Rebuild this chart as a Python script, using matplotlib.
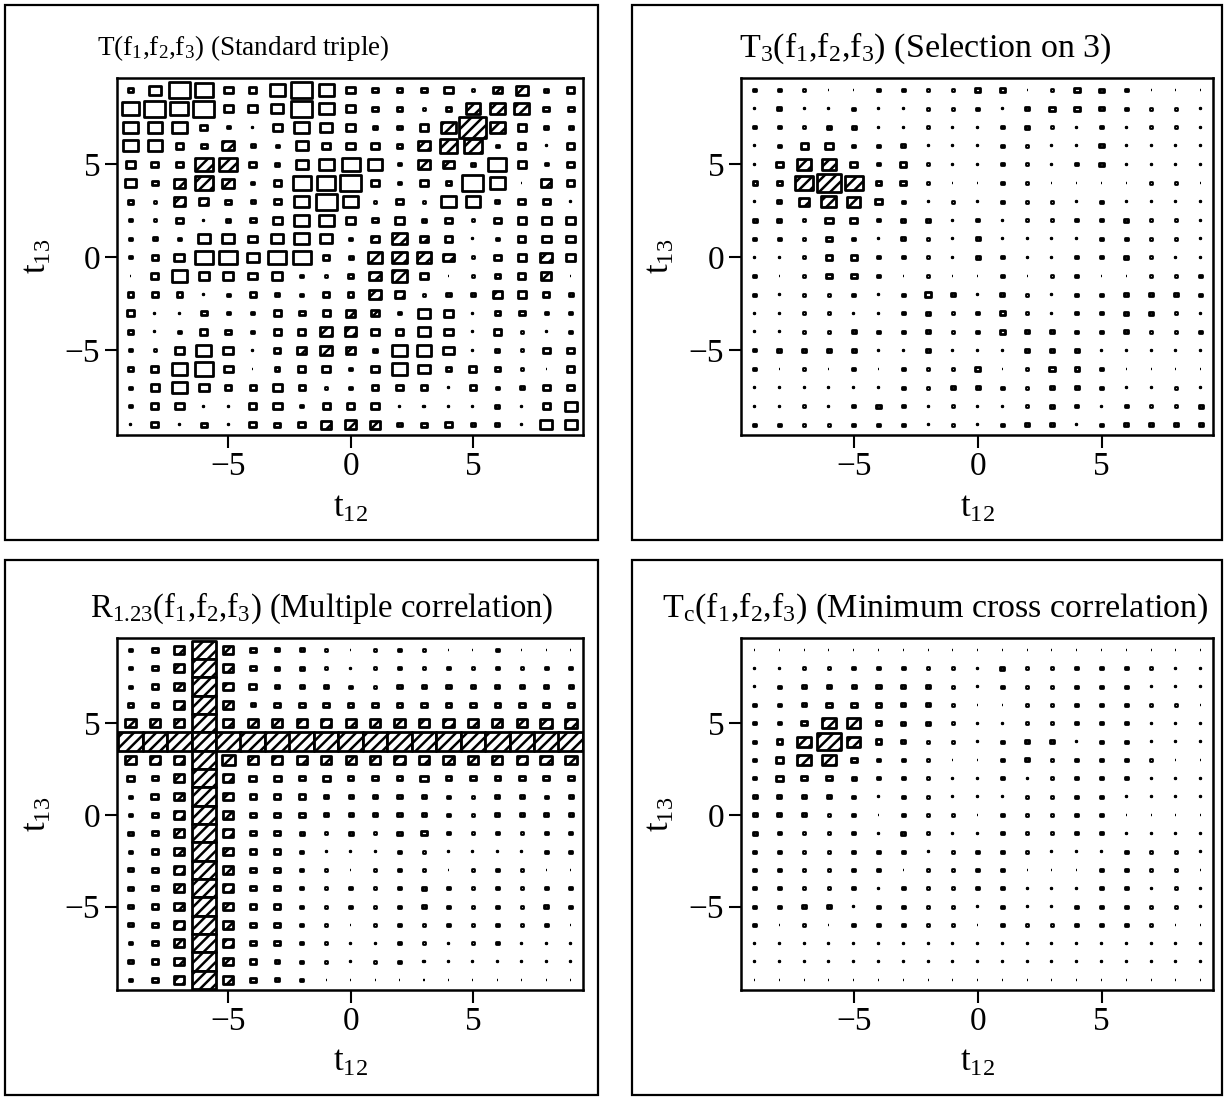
import numpy as np
import matplotlib
matplotlib.use('Agg')
import matplotlib.pyplot as plt
from matplotlib.patches import Rectangle

plt.rcParams['font.family'] = ['Liberation Serif', 'DejaVu Serif']
plt.rcParams['mathtext.fontset'] = 'custom'
plt.rcParams['mathtext.rm'] = 'Liberation Serif'
plt.rcParams['mathtext.it'] = 'Liberation Serif:italic'
plt.rcParams['hatch.linewidth'] = 1.8

lags = np.arange(-9, 10)
lag_ticks = [-5, 0, 5]

# rows: t13 = 9 (top) ... -9 (bottom); columns: t12 = -9 ... 9
# magnitude read off the square size, > 0 hatched, < 0 open
standard_triple = [
    [-2, -4, -7, -6, -3, -2.5, -5, -7, -5, -3, -2, -2, -2, -3, -1, 3, 4, -1.5, -2.5],
    [-6, -7, -6, -7, -3, -3, -4, -7, -5, -3, -2, -2, -1, -2, 5, 5, 5, -2, -2],
    [-5, -5, -5, -2.5, -1, -0.5, -3, -5, -4, -3, -1.5, -1.5, -3, 5, 9, 5, -3, -1.5, -1.5],
    [-5, -5, -2.5, -2, 4, -1.5, -1, -4, -3, -3, -2.5, -2, 4, 6, 6, -1, -2.5, -0.5, -2.5],
    [-3, -2.5, -2.5, 6, 6, -2.5, -1.5, -4, -5, -6, -5, -1, 4, 3.5, -1.5, -6, -3, -1, -2.5],
    [-3.5, -2, 4, 6, 4, -1, -2.5, -6, -6, -7, -3, -1, -2.5, -2, -7, -5, -0.5, 3.5, -2.5],
    [-2, -1, 4, 3, -2, -1.5, -2.5, -5, -7, -5, -1, -2.5, -1, -5, -5, -1.5, -2.5, -2.5, -0.5],
    [-1, -1, -2.5, -0.5, -1.5, -2, -3, -5, -5, -3, -2, -3, -1.5, -2.5, -1, -2.5, -3, -3, -3],
    [-1, -1.5, -1, -4, -4, -3, -4, -5, -4, -1, 3, 5, 3, -2.5, -0.5, -1, -2.5, -3, -3],
    [-1, -2, -3.5, -6, -6, -4, -6, -6, -2, -1.5, 5, 5, 5, 3.5, -1, -2.5, -3, 4, -3],
    [-0.5, -2.5, -5, -3.5, -3.5, -3, -3.5, -1, -1, -2, 4, 5, -2.5, -0.5, -1, -2, -2.5, 3.5, -0.5],
    [-2, -2, -2, -0.5, -1, -2, -1.5, -1, -2, -2, 4, 3, -1, -1.5, -1.5, 3, -3, -2, -1.5],
    [-2.5, -0.5, -0.5, -2, -1, -1, -2.5, -2, -2.5, 3, 2.5, -1, -4, -3, -0.5, -2, -2, -1, -1],
    [-2, -0.5, -1, -2.5, -2, -1, -2.5, -2.5, 4, 4, -2.5, -2.5, -4, -3, -0.5, -2.5, -1, -0.5, -1],
    [-1, -1, -3, -5, -3.5, -0.5, -2, 3, 4, 3, -1.5, -5, -5, -3.5, -0.5, -1.5, -1, -2.5, -2.5],
    [-2, -2.5, -5, -6, -3, -0.5, -1.5, -2.5, -3, -1, -3, -5, -4, -1.5, -2.5, -2, -1, -0.5, -2.5],
    [-1, -3, -5, -3.5, -2, -2, -3, -2, -1, -1, -2, -2.5, -2, -0.5, -2, -1, -1.5, -2.5, -2.5],
    [-1, -2.5, -3, -0.5, -0.5, -2.5, -3, -1, -2.5, -2.5, -2.5, -0.5, -0.5, -0.5, -0.5, -1.5, -0.5, -2.5, -4],
    [-0.5, -2.5, -0.5, -2, -0.5, -2.5, -2, -2.5, 3.5, 4, 3.5, -1.5, -2, -2.5, -1.5, -1.5, -0.5, -4, -4],
]

selection_on_3 = [
    [-1, -1, -1, -0.5, -0.5, -1, -1, -1, -1, -2, -2, -0.5, -1, -2, -1.5, -1, -0.5, -0.5, -0.5],
    [-0.5, -1.5, -0.5, -0.5, -1, -0.5, -0.5, -1, -1, -1, -0.5, -1.5, -2, -2, -1.5, -1, -1, -1, -0.5],
    [-1, -1, -1, -1.5, -1.5, -0.5, -0.5, -1, -0.5, -0.5, -1, -1.5, -1, -0.5, -1, -0.5, -1, -1, -0.5],
    [-0.5, -1, -2.5, -2.5, -1, -1, -1.5, -0.5, -0.5, -0.5, -1, -1, -0.5, -0.5, -1.5, -0.5, -0.5, -0.5, -0.5],
    [-0.5, -2.5, 4.5, 4.5, -2.5, -1, -2, -1, -0.5, -0.5, -1, -1, -0.5, -1, -1.5, -0.5, -0.5, -0.5, -0.5],
    [-1.5, -2, 6, 8.2, 6, -2, -2, -1, -0.5, -0.5, -1, -1, -0.5, -0.5, -0.5, -0.5, -1, -1, -0.5],
    [-0.5, -1.5, 3.5, 5, 4.5, -2.5, -1, -0.5, -1, -0.5, -1, -1, -1, -0.5, -1, -0.5, -0.5, -0.5, -0.5],
    [-1.5, -1.5, -1, -2.5, -2.5, -1, -1.5, -1.5, -0.5, -1, -0.5, -1, -1, -1, -1, -1.5, -1, -1, -0.5],
    [-1, -1, -1, -2, -1, -0.5, -1.5, -1, -0.5, -1.5, -0.5, -0.5, -0.5, -0.5, -1, -1, -1, -1, -0.5],
    [-0.5, -0.5, -1, -2, -2, -1, -1, -1, -0.5, -1.5, -1, -0.5, -0.5, -1, -1, -1.5, -1, -0.5, -0.5],
    [-1, -0.5, -1, -2, -2, -1, -0.5, -1, -0.5, -0.5, -1, -0.5, -1, -1, -0.5, -0.5, -1, -1, -1],
    [-1, -0.5, -1, -1, -1, -0.5, -1, -2, -1.5, -0.5, -1.5, -1, -0.5, -1, -1, -1.5, -1.5, -1.5, -1],
    [-0.5, -0.5, -1, -1, -0.5, -0.5, -1, -1.5, -1, -1, -2, -1, -0.5, -1, -1, -1.5, -1.5, -1, -0.5],
    [-0.5, -0.5, -1, -1, -1.5, -1, -1, -1.5, -1, -1, -2, -1.5, -1.5, -1, -1, -1.5, -1, -1, -1],
    [-1, -1.5, -1.5, -1.5, -1.5, -0.5, -0.5, -1.5, -0.5, -0.5, -0.5, -1.5, -1.5, -1.5, -0.5, -0.5, -0.5, -0.5, -0.5],
    [-1, -0.5, -1, -0.5, -1, -0.5, -1, -1, -1, -2, -0.5, -1, -2, -1.5, -1, -0.5, -0.5, -0.5, -0.5],
    [-0.5, -0.5, -0.5, -0.5, -0.5, -0.5, -1, -1, -1.5, -1.5, -1, -1, -1.5, -1.5, -1, -0.5, -0.5, -1, -0.5],
    [-0.5, -0.5, -1, -0.5, -1, -1.5, -1, -0.5, -1, -0.5, -0.5, -1, -1.5, -1, -0.5, -1, -1, -1, -1.5],
    [-1, -1, -1, -1, -1, -1, -1, -0.5, -1, -0.5, -1, -1.5, -1.5, -0.5, -1, -1.5, -1.5, -1.5, -1.5],
]

multiple_corr = [
    [-1, -2, 3.5, 8.2, 3.5, -2, -1.5, -1.5, -1, -0.5, -1, -1, -1, -0.5, -0.5, -1, -0.5, -0.5, -0.5],
    [-1, -2, 3.5, 8.2, 3.5, -2, -1.5, -1.5, -1, -0.5, -1, -1, -1, -1, -1, -1, -1, -1, -1],
    [-1, -2, 3.5, 8.2, 3.5, -2.5, -1.5, -1.5, -1.5, -1, -1, -1.5, -1.5, -1.5, -1.5, -1.5, -1.5, -1.5, -1.5],
    [-2, -2, 3.5, 8.2, 3.5, -1.5, -2, -2, -2, -2, -2, -2, -2, -2, -2, -2, -2, -2, -2],
    [3.5, 3.5, 3.5, 8.2, 3.5, 3.5, 3.5, 3.5, 3.5, 3.5, 3.5, 3.5, 3.5, 3.5, 3.5, 3.5, 3.5, 4, 4],
    [8.2, 8.2, 8.2, 8.2, 8.2, 8.2, 8.2, 8.2, 8.2, 8.2, 8.2, 8.2, 8.2, 8.2, 8.2, 8.2, 8.2, 8.2, 8.2],
    [3.5, 3.5, 3.5, 8.2, 4.5, 3.5, 3.5, 3.5, 3.5, 3.5, 3.5, 3.5, 3.5, 3.5, 3.5, 3.5, 3.5, 4, 4],
    [-2.5, -2, 3.5, 8.2, 3.5, -2.5, -2.5, -2, -2.5, -2, -2, -2, -2.5, -2, -2, -2, -2, -2, -2],
    [-1, -2.5, 3.5, 8.2, 3.5, -2, -2, -2, -1.5, -1.5, -1.5, -1.5, -1.5, -1, -1, -1.5, -1.5, -1, -1.5],
    [-1, -2, 3.5, 8.2, 3.5, -2, -2, -2, -1.5, -1.5, -1.5, -1.5, -1.5, -1, -1, -1.5, -1.5, -1.5, -1.5],
    [-1.5, -2, 3.5, 8.2, 3.5, -2, -2, -1.5, -1, -1.5, -1, -1.5, -2, -1, -1, -1, -1, -1, -1],
    [-1, -2, 3.5, 8.2, 3.5, -2, -2, -1, -0.5, -0.5, -0.5, -1, -1, -0.5, -0.5, -0.5, -0.5, -1, -1],
    [-1.5, -2, 3.5, 8.2, 3.5, -2, -2, -1, -1, -0.5, -1, -1, -1, -0.5, -1, -1, -1, -0.5, -0.5],
    [-1.5, -2, 3.5, 8.2, 3.5, -2, -2, -1, -1, -1, -1, -1, -1.5, -1, -1, -1, -1, -1, -1],
    [-1.5, -2, 3.5, 8.2, 3.5, -2, -2, -1, -1, -1, -1, -1, -1.5, -1, -1, -1, -1, -1.5, -1],
    [-1.5, -2, 3.5, 8.2, 3.5, -2, -2, -1, -1, -0.5, -1, -1, -1, -1, -1, -1, -1, -1, -0.5],
    [-1, -2, 3.5, 8.2, 3.5, -2, -2, -1, -1, -0.5, -0.5, -1, -1, -0.5, -1, -1, -0.5, -0.5, -0.5],
    [-1.5, -2, 3.5, 8.2, 3.5, -2, -1.5, -1, -1, -0.5, -1, -1, -0.5, -0.5, -0.5, -0.5, -0.5, -0.5, -0.5],
    [-1, -2, 3.5, 8.2, 3.5, -2, -1.5, -1, -0.5, -0.5, -0.5, -0.5, -0.5, -0.5, -0.5, -0.5, -0.5, -0.5, -0.5],
]

min_cross_corr = [
    [-0.5, -0.5, -0.5, -0.5, -0.5, -0.5, -0.5, -0.5, -0.5, -0.5, -0.5, -0.5, -0.5, -0.5, -0.5, -0.5, -0.5, -0.5, -0.5],
    [-0.5, -0.5, -1, -1, -1, -1, -1, -1, -1, -0.5, -1.5, -1, -1, -1, -1, -1, -1, -0.5, -0.5],
    [-0.5, -1, -1.5, -1.5, -1.5, -1.5, -1.5, -1.5, -1, -0.5, -1, -1, -1, -1, -1, -1, -0.5, -0.5, -0.5],
    [-1, -1, -1.5, -2, -2, -2, -1.5, -1.5, -1, -0.5, -0.5, -1, -1, -1, -1, -1, -1, -1, -0.5],
    [-1, -1, -2, 4.5, 4.5, -2, -1.5, -1.5, -1, -0.5, -0.5, -1, -1, -1, -1, -1, -0.5, -0.5, -0.5],
    [-1, -2, 4.5, 7.8, 4.5, -2, -1.5, -1, -1, -0.5, -1, -1.5, -1.5, -0.5, -1, -1, -0.5, -0.5, -0.5],
    [-1, -2.5, 4.5, 4.5, -2, -1, -1, -1, -0.5, -0.5, -1, -1.5, -1, -1, -1, -1, -1, -0.5, -0.5],
    [-1, -2.5, -2, -2, -1.5, -1, -1, -1, -0.5, -0.5, -1, -0.5, -1, -1, -1, -1, -0.5, -0.5, -0.5],
    [-1.5, -1.5, -1.5, -1.5, -1, -0.5, -1, -1, -0.5, -0.5, -0.5, -1, -1, -1, -1, -0.5, -0.5, -0.5, -0.5],
    [-1.5, -1.5, -1.5, -1, -1, -0.5, -1, -1, -1, -0.5, -1, -1, -1, -1, -1, -0.5, -0.5, -0.5, -0.5],
    [-1.5, -1, -1, -1, -1, -0.5, -1.5, -1, -0.5, -0.5, -1, -1, -1, -1, -1, -0.5, -0.5, -0.5, -0.5],
    [-1, -1, -1, -1, -1, -1, -1, -0.5, -1, -1, -1, -1, -0.5, -0.5, -0.5, -1, -1, -1, -0.5],
    [-1, -1, -1, -1, -1, -1, -0.5, -1, -1, -1, -1, -0.5, -0.5, -0.5, -1, -1, -1, -1, -0.5],
    [-1, -1, -1, -1, -1, -0.5, -1, -1, -1, -1, -1, -0.5, -0.5, -0.5, -1, -1, -0.5, -1, -0.5],
    [-1, -1, -1.5, -1.5, -0.5, -1, -1, -1, -1, -0.5, -1, -0.5, -0.5, -1, -1, -1, -1, -1, -0.5],
    [-1, -0.5, -1, -0.5, -1, -1, -1, -1, -1, -0.5, -1, -1, -1, -1, -1, -1, -1, -0.5, -0.5],
    [-0.5, -0.5, -0.5, -0.5, -0.5, -0.5, -0.5, -0.5, -0.5, -0.5, -0.5, -0.5, -0.5, -0.5, -0.5, -0.5, -0.5, -0.5, -0.5],
    [-0.5, -0.5, -0.5, -0.5, -0.5, -0.5, -0.5, -0.5, -0.5, -0.5, -0.5, -0.5, -0.5, -0.5, -0.5, -0.5, -0.5, -0.5, -0.5],
    [-0.5, -0.5, -0.5, -0.5, -0.5, -0.5, -0.5, -0.5, -0.5, -0.5, -0.5, -0.5, -0.5, -0.5, -0.5, -0.5, -0.5, -0.5, -0.5],
]

F = r'($\mathrm{f}_1$,$\mathrm{f}_2$,$\mathrm{f}_3$)'
titles = [
    'T' + F + ' (Standard triple)',
    r'$\mathrm{T}_3$' + F + ' (Selection on 3)',
    r'$\mathrm{R}_{1.23}$' + F + ' (Multiple correlation)',
    r'$\mathrm{T}_\mathrm{c}$' + F + ' (Minimum cross correlation)',
]
grids = [standard_triple, selection_on_3, multiple_corr, min_cross_corr]


def side(v):
    # square side in lag units for a read-off magnitude
    return max(0.125 * abs(v) - 0.02, 0.03)


def draw_cells(ax, grid):
    grid = np.asarray(grid, float)
    for i, t13 in enumerate(lags[::-1]):
        for j, t12 in enumerate(lags):
            v = grid[i, j]
            s = side(v)
            lw = 2.0 if abs(v) > 0.6 else 1.7
            ax.add_patch(Rectangle((t12 - s / 2, t13 - s / 2), s, s,
                                   facecolor='white', edgecolor='black', lw=lw,
                                   joinstyle='round',
                                   hatch='///' if v > 0 else None))


W, H = 1225, 1098
fig = plt.figure(figsize=(W / 100, H / 100), dpi=100)

# axes boxes in pixels (left, top, right, bottom)
boxes = [(117, 78, 583, 435), (741, 78, 1213, 435),
         (117, 638, 583, 990), (741, 638, 1213, 990)]
frames = [(5, 5, 598, 540), (632, 5, 1222, 540),
          (5, 560, 598, 1095), (632, 560, 1222, 1095)]
title_pos = [(243, 48), (925, 48), (322, 608), (935, 608)]
title_size = [19.5, 24.5, 23.5, 24.5]

for k in range(4):
    l, t, r, b = boxes[k]
    ax = fig.add_axes([l / W, 1 - b / H, (r - l) / W, (b - t) / H])
    draw_cells(ax, grids[k])
    ax.set_xlim(-9.55, 9.5)
    ax.set_ylim(-9.55, 9.65)
    ax.set_xticks(lag_ticks)
    ax.set_yticks(lag_ticks)
    ax.set_xticklabels(['\u22125', '0', '5'])
    ax.set_yticklabels(['\u22125', '0', '5'])
    ax.tick_params(direction='out', length=9, width=1.5, labelsize=24, pad=3)
    for sp in ax.spines.values():
        sp.set_linewidth(1.8)
    ax.set_xlabel(r'$\mathrm{t}_{12}$', fontsize=25)
    ax.set_ylabel(r'$\mathrm{t}_{13}$', fontsize=25)
    ax.xaxis.set_label_coords(0.5, -0.16)
    ax.yaxis.set_label_coords(-0.135, 0.5)

    fl, ft, fr, fb = frames[k]
    fig.add_artist(Rectangle((fl / W, 1 - fb / H), (fr - fl) / W, (fb - ft) / H,
                             transform=fig.transFigure, fill=False,
                             edgecolor='black', lw=1.6))
    tx, ty = title_pos[k]
    fig.text(tx / W, 1 - ty / H, titles[k], ha='center', va='center',
             fontsize=title_size[k])

fig.savefig('out.png', dpi=100, facecolor='white')
